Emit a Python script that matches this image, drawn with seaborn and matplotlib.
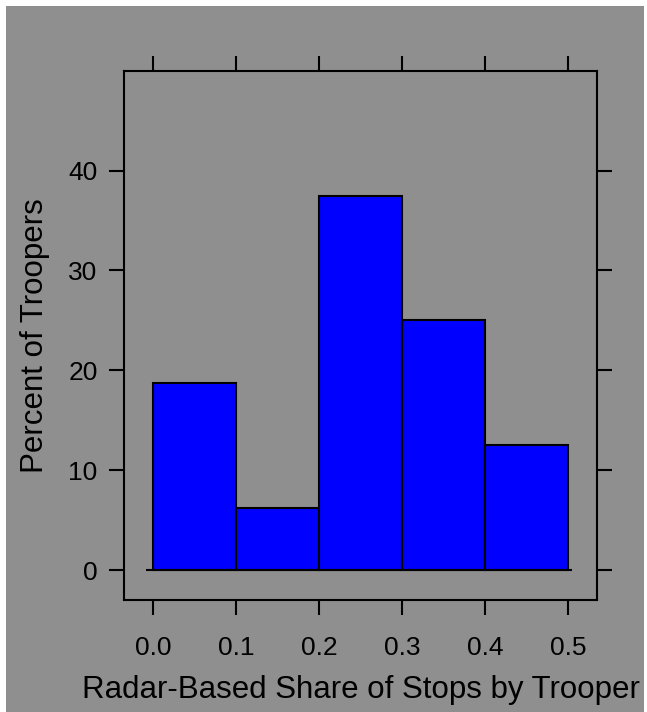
import matplotlib
matplotlib.use("Agg")
import matplotlib.pyplot as plt
import matplotlib.patches as mpatches
import seaborn as sns

# Histogram bins and the share of troopers in each bin (percent)
bin_edges = [0.0, 0.1, 0.2, 0.3, 0.4, 0.5]
bin_mids = [0.05, 0.15, 0.25, 0.35, 0.45]
pct_troopers = [18.75, 6.25, 37.5, 25.0, 12.5]
x_ticks = [0.0, 0.1, 0.2, 0.3, 0.4, 0.5]
x_tick_labels = ["0.0", "0.1", "0.2", "0.3", "0.4", "0.5"]
y_ticks = [0, 10, 20, 30, 40]

BG = "#8f8f8f"

sns.set_style("white")
plt.rcParams["font.family"] = ["Liberation Sans", "DejaVu Sans"]

W, H = 647, 712
fig = plt.figure(figsize=(W / 100, H / 100), dpi=100, facecolor="white")
# gray page with a thin white margin
fig.add_artist(mpatches.Rectangle((6 / W, 0), (644 - 6) / W, (712 - 6) / H,
                                  transform=fig.transFigure, facecolor=BG,
                                  edgecolor="none", zorder=-10))

ax = fig.add_axes([124 / W, 1 - 600 / H, (597.5 - 124) / W, (600 - 70.7) / H])
ax.set_zorder(1)
ax.set_facecolor(BG)

sns.histplot(x=bin_mids, weights=pct_troopers, bins=bin_edges, ax=ax,
             color="#0000ff", alpha=1.0, edgecolor="black", linewidth=1.5,
             stat="count", zorder=3)

# baseline under the bars
ax.plot([-0.008, 0.504], [0, 0], color="black", lw=1.5, zorder=4,
        solid_capstyle="butt")

ax.set_xlim(-0.035, 0.535)
ax.set_ylim(-3.0, 50.0)

for s in ax.spines.values():
    s.set_color("black")
    s.set_linewidth(1.5)

ax.set_xticks(x_ticks)
ax.set_xticklabels(x_tick_labels)
ax.set_yticks(y_ticks)
ax.tick_params(axis="both", which="major", direction="out", length=11,
               width=1.5, color="black", labelsize=19, labelcolor="black",
               top=True, right=True, bottom=True, left=True,
               labeltop=False, labelright=False)
ax.tick_params(axis="x", pad=15)
ax.tick_params(axis="y", pad=8)

ax.set_xlabel("Radar-Based Share of Stops by Trooper", fontsize=22.5,
              color="black", va="center")
ax.xaxis.set_label_coords(0.5, -0.170)
ax.set_ylabel("Percent of Troopers", fontsize=22.5, color="black",
              va="center")
ax.yaxis.set_label_coords(-0.188, 0.50)

fig.savefig("out.png", dpi=100, facecolor=fig.get_facecolor())
